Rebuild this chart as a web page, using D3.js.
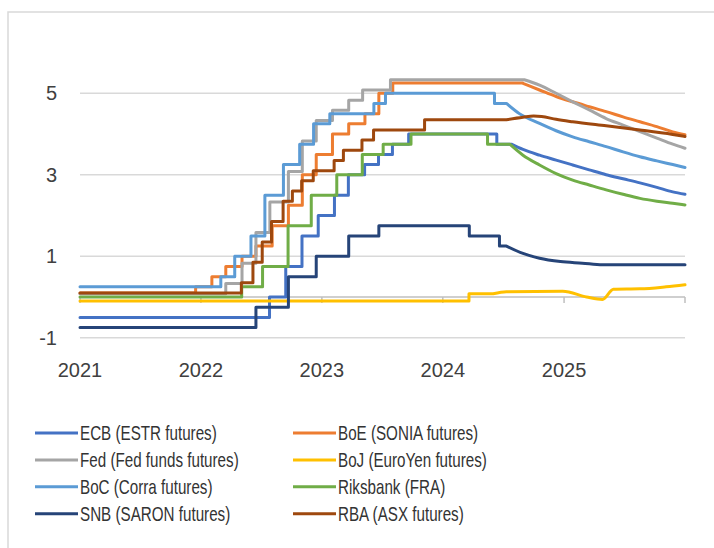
<!DOCTYPE html>
<html><head><meta charset="utf-8">
<script src="https://cdn.jsdelivr.net/npm/d3@7"></script>
<style>body{margin:0;background:#fff} svg{display:block}</style>
</head><body>
<svg id="chart" width="714" height="548"></svg>
<script>
// ---------- data ----------
const seriesNames = ["ECB (ESTR futures)", "BoE (SONIA futures)", "Fed (Fed funds futures)", "BoJ (EuroYen futures)",
  "BoC (Corra futures)", "Riksbank (FRA)", "SNB (SARON futures)", "RBA (ASX futures)"];
const seriesColors = ["#4472C4", "#ED7D31", "#A5A5A5", "#FFC000", "#5B9BD5", "#70AD47", "#264478", "#9E480E"];

// realised policy-rate steps (date of change, new level)
const ecbSteps = [["2021-01-01",-0.5],["2022-07-27",0],["2022-09-14",0.75],["2022-11-02",1.5],["2022-12-21",2.0],["2023-02-08",2.5],["2023-03-22",3.0],["2023-05-10",3.25],["2023-06-21",3.5],["2023-08-02",3.75],["2023-09-20",4.0],["2024-06-12",3.75]];
const boeSteps = [["2021-01-01",0.1],["2021-12-16",0.25],["2022-02-03",0.5],["2022-03-17",0.75],["2022-05-05",1.0],["2022-06-16",1.25],["2022-08-04",1.75],["2022-09-22",2.25],["2022-11-03",3.0],["2022-12-15",3.5],["2023-02-02",4.0],["2023-03-23",4.25],["2023-05-11",4.5],["2023-06-22",5.0],["2023-08-03",5.25]];
const fedSteps = [["2021-01-01",0.08],["2022-03-17",0.33],["2022-05-05",0.83],["2022-06-16",1.58],["2022-07-28",2.33],["2022-09-22",3.08],["2022-11-03",3.83],["2022-12-15",4.33],["2023-02-02",4.58],["2023-03-23",4.83],["2023-05-04",5.08],["2023-07-27",5.33]];
const bojSteps = [["2021-01-01",-0.1],["2024-03-20",0.08]];
const bocSteps = [["2021-01-01",0.25],["2022-03-02",0.5],["2022-04-13",1.0],["2022-06-01",1.5],["2022-07-13",2.5],["2022-09-07",3.25],["2022-10-26",3.75],["2022-12-07",4.25],["2023-01-25",4.5],["2023-06-07",4.75],["2023-07-12",5.0],["2024-06-05",4.75]];
const riksSteps = [["2021-01-01",0],["2022-05-04",0.25],["2022-07-06",0.75],["2022-09-21",1.75],["2022-11-30",2.5],["2023-02-15",3.0],["2023-05-03",3.5],["2023-07-05",3.75],["2023-09-27",4.0],["2024-05-15",3.75]];
const snbSteps = [["2021-01-01",-0.75],["2022-06-16",-0.25],["2022-09-22",0.5],["2022-12-15",1.0],["2023-03-23",1.5],["2023-06-22",1.75],["2024-03-21",1.5],["2024-06-20",1.25]];
const rbaSteps = [["2021-01-01",0.1],["2022-05-03",0.35],["2022-06-07",0.85],["2022-07-05",1.35],["2022-08-02",1.85],["2022-09-06",2.35],["2022-10-04",2.6],["2022-11-01",2.85],["2022-12-06",3.1],["2023-02-07",3.35],["2023-03-07",3.6],["2023-05-02",3.85],["2023-06-06",4.1],["2023-11-07",4.35]];

// market-implied paths
const ecbFwd = [["2024-07-26",3.75],["2024-08-30",3.62],["2024-10-19",3.48],["2024-12-08",3.36],["2025-01-27",3.24],["2025-03-18",3.12],["2025-05-08",3.0],["2025-06-28",2.9],["2025-08-18",2.8],["2025-10-08",2.69],["2025-11-25",2.58],["2026-01-01",2.52]];
const boeFwd = [["2024-08-30",5.24],["2024-10-19",5.08],["2024-12-08",4.92],["2025-01-27",4.79],["2025-03-18",4.67],["2025-05-08",4.55],["2025-06-28",4.42],["2025-08-18",4.3],["2025-10-08",4.18],["2025-11-25",4.05],["2026-01-01",3.98]];
const fedFwd = [["2024-09-03",5.33],["2024-10-19",5.2],["2024-12-08",5.0],["2025-01-27",4.79],["2025-03-18",4.59],["2025-05-08",4.38],["2025-06-28",4.22],["2025-08-18",4.06],["2025-10-08",3.9],["2025-11-25",3.75],["2026-01-01",3.65]];
const bojFwd = [["2024-06-01",0.08],["2024-07-11",0.13],["2024-12-28",0.14],["2025-03-10",0.0],["2025-04-27",-0.06],["2025-05-30",0.19],["2025-08-18",0.2],["2025-11-05",0.25],["2026-01-01",0.3]];
const bocFwd = [["2024-07-11",4.75],["2024-08-19",4.5],["2024-10-19",4.26],["2024-12-08",4.08],["2025-01-27",3.93],["2025-03-18",3.81],["2025-05-08",3.69],["2025-06-28",3.56],["2025-08-18",3.44],["2025-10-08",3.34],["2025-11-25",3.25],["2026-01-01",3.18]];
const riksFwd = [["2024-07-21",3.75],["2024-08-30",3.48],["2024-10-19",3.24],["2024-12-08",3.03],["2025-01-27",2.87],["2025-03-18",2.75],["2025-05-08",2.63],["2025-06-28",2.52],["2025-08-18",2.42],["2025-10-08",2.35],["2025-11-25",2.3],["2026-01-01",2.26]];
const snbFwd = [["2024-07-11",1.25],["2024-08-30",1.07],["2024-10-19",0.95],["2024-12-21",0.87],["2025-02-25",0.83],["2025-04-27",0.79],["2026-01-01",0.79]];
const rbaFwd = [["2024-07-11",4.35],["2024-08-30",4.41],["2024-10-01",4.44],["2024-10-25",4.43],["2024-12-08",4.36],["2025-01-27",4.3],["2025-05-08",4.2],["2025-08-18",4.1],["2025-11-25",3.99],["2026-01-01",3.94]];

const allSteps = [ecbSteps, boeSteps, fedSteps, bojSteps, bocSteps, riksSteps, snbSteps, rbaSteps];
const allFwd = [ecbFwd, boeFwd, fedFwd, bojFwd, bocFwd, riksFwd, snbFwd, rbaFwd];

const yTicks = [-1, 1, 3, 5];
const xTickLabels = ["2021", "2022", "2023", "2024", "2025"];
const xTickMarks = ["2021", "2022", "2023", "2024", "2025", "2026"];

// ---------- drawing ----------
const svg = d3.select("#chart");
const parse = d3.timeParse("%Y-%m-%d");
const x = d3.scaleTime().domain([parse("2021-01-01"), parse("2026-01-01")]).range([80, 685]);
const y = d3.scaleLinear().domain([-1, 7]).range([337.75, 11.75]);
const font = "'Liberation Sans', Arial, sans-serif";
const txtColor = "#404040";

// chart area border
svg.append("path").attr("d", "M8,548V12H714").attr("fill", "none").attr("stroke", "#D9D9D9").attr("stroke-width", 1.5);

// gridlines
svg.append("g").selectAll("line").data(yTicks).join("line")
  .attr("x1", x.range()[0]).attr("x2", x.range()[1])
  .attr("y1", d => y(d)).attr("y2", d => y(d))
  .attr("stroke", "#D9D9D9").attr("stroke-width", 1.5);

// y labels
svg.append("g").selectAll("text").data(yTicks).join("text")
  .attr("x", 57).attr("y", d => y(d)).attr("dy", "0.35em")
  .attr("text-anchor", "end").attr("font-family", font).attr("font-size", 20).attr("fill", txtColor)
  .text(d => d);

// horizontal axis at zero
const axisG = svg.append("g").attr("transform", `translate(0,${y(0)})`);
axisG.append("line").attr("x1", x.range()[0]).attr("x2", x.range()[1]).attr("stroke", "#BFBFBF").attr("stroke-width", 1.5);
axisG.selectAll("line.tick").data(xTickMarks).join("line").attr("class", "tick")
  .attr("x1", d => x(parse(d + "-01-01"))).attr("x2", d => x(parse(d + "-01-01")))
  .attr("y1", 0).attr("y2", 6).attr("stroke", "#BFBFBF").attr("stroke-width", 1.5);

// x labels (low position)
svg.append("g").selectAll("text").data(xTickLabels).join("text")
  .attr("x", d => x(parse(d + "-01-01"))).attr("y", 370).attr("dy", "0.35em")
  .attr("text-anchor", "middle").attr("font-family", font).attr("font-size", 20).attr("fill", txtColor)
  .text(d => d);

// series
const stepLine = d3.line().x(d => x(parse(d[0]))).y(d => y(d[1])).curve(d3.curveStepAfter);
const fwdLine = d3.line().x(d => x(parse(d[0]))).y(d => y(d[1])).curve(d3.curveMonotoneX);
const linesG = svg.append("g").attr("fill", "none").attr("stroke-width", 3).attr("stroke-linejoin", "round").attr("stroke-linecap", "round");
seriesNames.forEach((name, i) => {
  const steps = allSteps[i].concat([allFwd[i][0]]);
  linesG.append("path").attr("d", stepLine(steps) + fwdLine(allFwd[i]).replace(/^M[^L C]*/, m => "L" + m.slice(1)))
    .attr("stroke", seriesColors[i]);
});

// legend (condensed text to mimic the narrow original face)
const legG = svg.append("g");
seriesNames.forEach((name, i) => {
  const col = i % 2, row = Math.floor(i / 2);
  const lx = col === 0 ? 35 : 293;
  const ly = 433 + row * 26.9;
  legG.append("line").attr("x1", lx).attr("x2", lx + 43).attr("y1", ly).attr("y2", ly)
    .attr("stroke", seriesColors[i]).attr("stroke-width", 3);
  legG.append("text").attr("transform", `translate(${lx + 45},${ly}) scale(0.76,1)`).attr("dy", "0.35em")
    .attr("font-family", font).attr("font-size", 20).attr("fill", "#333333").text(name);
});
</script>
</body></html>
